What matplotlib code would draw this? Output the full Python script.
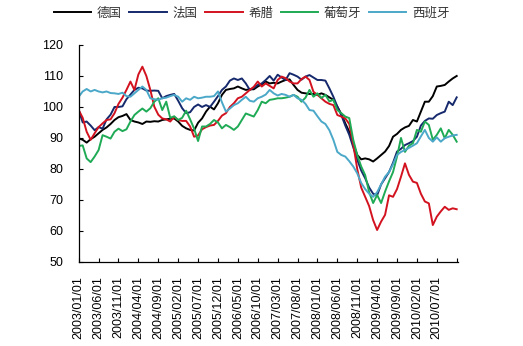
import numpy as np
import pandas as pd
import matplotlib
matplotlib.use("Agg")
import matplotlib.pyplot as plt

# monthly index, 2003/01 .. 2010/12
months = pd.date_range("2003-01-01", "2010-12-01", freq="MS")

germany = [
    89.9, 89.4, 88.5, 89.6, 90.4, 91.5, 92.6, 93.4, 94.5, 95.8,
    96.7, 97.1, 97.7, 95.8, 95.3, 95.0, 94.5, 95.3, 95.2, 95.4,
    95.3, 95.8, 96.0, 96.2, 96.3, 95.3, 93.9, 93.1, 92.6, 92.4,
    94.9, 96.3, 98.5, 100.1, 99.2, 101.2, 103.9, 105.5, 105.8, 106.0,
    106.6, 106.0, 105.5, 105.7, 105.7, 106.6, 107.3, 108.2, 107.6, 107.8,
    107.6, 108.2, 108.7, 108.9, 107.1, 105.5, 104.6, 104.4, 104.2, 104.2,
    103.9, 104.4, 103.9, 103.1, 102.3, 100.1, 97.7, 94.7, 92.0, 88.3,
    84.5, 83.1, 83.4, 83.1, 82.4, 83.4, 84.5, 85.6, 87.4, 90.4,
    91.3, 92.6, 93.4, 93.9, 95.8, 95.3, 98.5, 101.7, 101.7, 103.5,
    106.6, 106.8, 107.1, 108.2, 109.2, 110.0,
]
france = [
    99.0, 95.0, 95.3, 94.0, 92.5, 93.5, 93.0, 96.0, 97.5, 100.0,
    100.0, 100.2, 102.5, 104.0, 105.5, 106.2, 106.0, 105.3, 105.2, 105.3,
    105.2, 102.8, 103.5, 103.9, 104.2, 102.0, 99.6, 98.0, 98.3, 100.0,
    100.8, 100.0, 100.6, 100.0, 101.7, 103.5, 105.5, 106.6, 108.5, 109.2,
    108.7, 109.2, 107.6, 105.5, 106.2, 107.1, 107.6, 108.7, 110.0, 108.5,
    110.4, 109.5, 108.7, 110.9, 110.4, 109.8, 108.8, 109.8, 110.3, 109.5,
    108.7, 108.7, 108.5, 106.0, 103.3, 100.1, 97.4, 94.0, 91.0, 87.0,
    83.0, 79.5, 77.0, 74.0, 72.0, 71.5, 75.0, 77.0, 79.0, 82.0,
    85.6, 86.5, 87.7, 88.3, 89.0, 90.4, 94.0, 95.5, 96.3, 96.2,
    97.4, 98.0, 98.5, 101.7, 100.6, 103.1,
]
greece = [
    99.0, 96.5, 92.0, 89.4, 91.5, 93.5, 94.7, 95.8, 96.0, 98.0,
    101.0, 103.0, 105.5, 108.2, 105.5, 110.5, 113.0, 110.0, 105.5, 100.1,
    97.5, 96.3, 96.0, 95.3, 96.8, 95.8, 95.5, 95.5, 93.7, 90.4,
    90.8, 92.8, 93.5, 94.0, 94.2, 95.5, 97.2, 98.0, 100.0, 101.2,
    102.8, 103.3, 104.4, 105.5, 106.5, 108.2, 106.6, 107.6, 106.8, 106.0,
    108.7, 109.8, 109.3, 108.2, 107.6, 107.6, 109.0, 109.8, 108.7, 104.9,
    103.9, 102.8, 101.7, 101.0, 100.6, 97.4, 96.9, 96.3, 94.5, 88.0,
    80.0, 74.0, 71.0, 68.0, 63.5, 60.3, 63.0, 65.2, 71.5, 71.0,
    73.5, 77.5, 81.8, 78.1, 75.9, 75.5, 72.0, 69.5, 68.9, 61.9,
    64.6, 66.3, 67.8, 66.8, 67.3, 67.0,
]
portugal = [
    87.4, 87.6, 83.4, 82.2, 84.0, 86.1, 90.9, 90.4, 89.8, 92.0,
    93.0, 92.2, 92.8, 95.3, 97.4, 98.5, 99.5, 98.5, 99.6, 101.7,
    102.8, 99.0, 101.7, 96.5, 97.0, 95.8, 96.5, 98.8, 96.0, 93.0,
    89.0, 93.7, 93.7, 94.5, 95.8, 95.0, 93.1, 94.2, 93.5, 92.6,
    93.7, 95.8, 97.9, 97.4, 96.9, 99.0, 101.7, 101.2, 102.3, 102.5,
    102.8, 102.8, 103.0, 103.3, 103.9, 103.3, 101.7, 103.0, 105.5, 103.3,
    104.4, 102.9, 103.9, 101.8, 102.3, 99.0, 98.0, 96.9, 96.4, 89.4,
    84.5, 80.8, 78.0, 72.5, 69.0, 71.6, 69.0, 72.7, 76.0, 79.0,
    84.0, 90.0, 85.5, 87.5, 88.3, 92.6, 92.0, 95.3, 94.2, 89.4,
    91.0, 93.1, 89.9, 92.6, 91.0, 88.8,
]
spain = [
    103.3, 105.0, 105.8, 105.0, 105.5, 105.0, 104.7, 105.0, 104.5, 104.4,
    104.2, 104.6, 103.5, 103.3, 104.4, 105.5, 106.6, 105.5, 102.8, 102.5,
    102.3, 102.8, 103.0, 103.5, 103.9, 103.3, 101.7, 102.8, 102.3, 103.3,
    102.8, 103.0, 103.3, 103.3, 103.5, 105.0, 101.5, 98.5, 99.5, 100.6,
    101.2, 102.3, 103.3, 102.0, 101.7, 102.8, 103.3, 104.0, 105.5, 104.4,
    103.7, 104.2, 103.9, 103.3, 103.9, 102.8, 102.3, 101.0, 99.0, 98.8,
    97.0, 95.3, 94.5, 92.5, 89.4, 85.5, 84.5, 84.0, 82.5, 80.8,
    78.6, 75.5, 73.5, 72.0, 71.0, 72.5, 75.0, 77.5, 79.0, 81.5,
    84.5, 85.5, 86.1, 86.8, 87.5, 88.3, 90.5, 92.6, 90.0, 88.8,
    90.2, 88.8, 89.9, 90.4, 90.8, 91.0,
]

series = [
    ("德国", germany, "#000000"),
    ("法国", france, "#15296c"),
    ("希腊", greece, "#d3121f"),
    ("葡萄牙", portugal, "#1faa55"),
    ("西班牙", spain, "#4ba8c8"),
]

plt.rcParams["font.family"] = ["Liberation Sans", "Noto Sans CJK SC", "DejaVu Sans"]

fig = plt.figure(figsize=(5.23, 3.46), dpi=100)
ax = fig.add_axes([0.1505, 0.243, 0.725, 0.627])

x = np.arange(len(months))
for name, vals, color in series:
    ax.plot(x, vals, color=color, lw=1.4, label=name)

ax.set_xlim(0, len(months) - 0.7)
ax.set_ylim(50, 120)
ax.set_yticks(np.arange(50, 121, 10))

tick_pos = np.arange(0, len(months), 5)
ax.set_xticks(tick_pos)
ax.set_xticklabels([months[i].strftime("%Y/%m/%d") if i <= 90 else "" for i in tick_pos],
                   rotation=90)

for s in ("top", "right"):
    ax.spines[s].set_visible(False)
ax.spines["left"].set_linewidth(0.9)
ax.spines["bottom"].set_linewidth(0.9)
ax.tick_params(axis="x", direction="in", length=3, width=0.8, pad=10, labelsize=9)
ax.tick_params(axis="y", direction="in", length=3, width=0.8, pad=11, labelsize=9)

fig.legend(loc="center", bbox_to_anchor=(0.481, 0.962), ncol=5, frameon=False,
           prop={"family": ["Noto Sans CJK SC"], "size": 9},
           labelcolor="#333333",
           handlelength=3.0, handletextpad=0.45, columnspacing=0.6)

fig.savefig("out.png", dpi=100)
